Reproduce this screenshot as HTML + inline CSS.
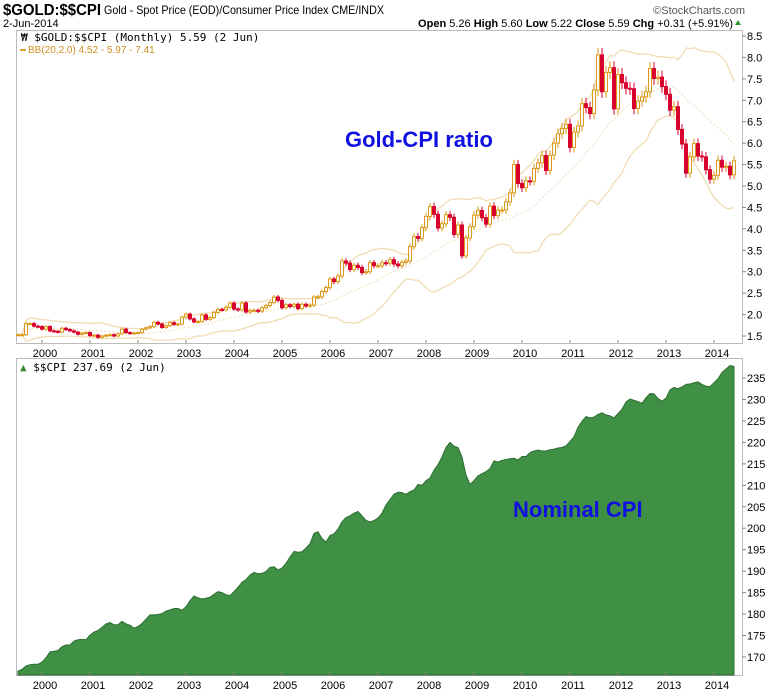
<!DOCTYPE html>
<html><head><meta charset="utf-8"><style>
body{margin:0;background:#fff;font-family:"Liberation Sans",sans-serif}
svg{display:block}
</style></head><body>
<svg id="c" width="780" height="690" xmlns="http://www.w3.org/2000/svg">
<text x="3" y="15" font-size="16" font-weight="bold" textLength="98" lengthAdjust="spacingAndGlyphs">$GOLD:$$CPI</text>
<text x="104" y="14" font-size="12" textLength="280" lengthAdjust="spacingAndGlyphs">Gold - Spot Price (EOD)/Consumer Price Index  CME/INDX</text>
<text x="745" y="14" font-size="11" fill="#555" text-anchor="end">©StockCharts.com</text>
<text x="3" y="27" font-size="11">2-Jun-2014</text>
<text x="733" y="27" font-size="11" text-anchor="end"><tspan font-weight="bold">Open</tspan> 5.26 <tspan font-weight="bold">High</tspan> 5.60 <tspan font-weight="bold">Low</tspan> 5.22 <tspan font-weight="bold">Close</tspan> 5.59 <tspan font-weight="bold">Chg</tspan> +0.31 (+5.91%)</text>
<path d="M735,25 l3,-5 l3,5z" fill="#2a9a2a"/>
<rect x="16.5" y="30.5" width="726" height="313" fill="none" stroke="#bbb"/>
<rect x="16.5" y="358.5" width="726" height="317" fill="none" stroke="#bbb"/>
<g id="topg"></g><g id="botg"></g><g id="axesg"></g>
<text x="21" y="41" font-size="11" font-family="DejaVu Sans Mono">₩ $GOLD:$$CPI (Monthly) 5.59 (2 Jun)</text>
<rect x="20" y="49" width="6" height="2" fill="#e0a030"/>
<text x="28" y="53" font-size="10" fill="#d09020">BB(20,2.0) 4.52 - 5.97 - 7.41</text>
<text x="20" y="371" font-size="11" font-family="DejaVu Sans Mono"><tspan fill="#3a8a3a">▲</tspan> $$CPI 237.69 (2 Jun)</text>
<text x="345" y="147" font-size="22" font-weight="bold" fill="#1010e0">Gold-CPI ratio</text>
<text x="513" y="517" font-size="22" font-weight="bold" fill="#1010e0">Nominal CPI</text>
</svg>
<script>
const ratioCloses=[1.53,1.53,1.79,1.79,1.73,1.72,
1.66,1.72,1.62,1.61,1.59,1.68,1.65,1.62,1.59,1.54,1.57,1.58,
1.51,1.52,1.47,1.50,1.52,1.53,1.50,1.55,1.66,1.58,1.56,1.57,
1.58,1.66,1.69,1.72,1.82,1.78,1.70,1.74,1.81,1.77,1.78,1.94,
2.01,1.90,1.83,1.84,1.99,1.89,1.93,2.05,2.12,2.11,2.17,2.27,
2.13,2.11,2.27,2.06,2.10,2.10,2.08,2.16,2.21,2.28,2.41,2.33,
2.16,2.23,2.19,2.24,2.14,2.24,2.20,2.22,2.41,2.41,2.54,2.63,
2.83,2.77,2.90,3.25,3.20,3.05,3.15,3.10,2.98,3.00,3.21,3.14,
3.14,3.21,3.20,3.28,3.18,3.14,3.22,3.25,3.59,3.82,3.78,4.03,
4.29,4.52,4.34,4.02,4.12,4.33,4.27,3.87,4.09,3.37,3.79,4.05,
4.32,4.43,4.26,4.11,4.53,4.31,4.44,4.44,4.63,4.84,5.50,5.06,
4.96,5.12,5.11,5.41,5.54,5.71,5.36,5.72,6.00,6.22,6.34,6.44,
5.90,6.26,6.40,6.92,6.83,6.69,7.24,8.06,7.20,7.65,7.76,6.80,
7.60,7.41,7.28,7.27,6.81,6.98,7.08,7.20,7.74,7.51,7.54,7.32,
7.14,6.77,6.85,6.32,5.98,5.30,5.68,5.99,5.70,5.68,5.38,5.16,
5.25,5.60,5.44,5.46,5.26,5.59];
const cpiValues=[166.7,167.1,167.9,168.2,168.3,168.3,
168.8,169.8,171.2,171.3,171.5,172.4,172.8,172.8,173.7,174.0,174.1,174.0,
175.1,175.8,176.2,176.9,177.7,178.0,177.5,177.5,178.3,177.7,177.4,176.7,
177.1,177.8,178.8,179.8,179.8,179.9,180.1,180.7,181.0,181.3,181.3,180.9,
181.7,183.1,184.2,183.8,183.5,183.7,183.9,184.6,185.2,185.0,184.5,184.3,
185.2,186.2,187.4,188.0,189.1,189.7,189.4,189.5,189.9,190.9,191.0,190.3,
190.7,191.8,193.3,194.6,194.4,194.5,195.4,196.4,198.8,199.2,197.6,196.8,
198.3,198.7,199.8,201.5,202.5,202.9,203.5,203.9,202.9,201.8,201.5,201.8,
202.4,203.5,205.4,206.7,207.9,208.4,208.3,207.9,208.5,208.9,210.2,210.0,
211.1,211.7,213.5,214.8,216.6,218.8,220.0,219.1,218.8,216.6,212.4,210.2,
211.1,212.2,212.7,213.2,213.9,215.7,215.4,215.8,216.0,216.2,216.3,215.9,
216.7,216.7,217.6,218.0,218.2,218.0,218.0,218.3,218.4,218.7,218.8,219.2,
220.2,221.3,223.5,224.9,226.0,225.7,225.9,226.5,226.9,226.4,226.2,225.7,
226.7,227.7,229.4,230.1,229.8,229.5,229.1,230.4,231.4,231.3,230.2,229.6,
230.3,232.2,232.8,232.5,232.9,233.5,233.6,233.9,234.1,233.5,233.1,233.0,
233.9,234.8,236.3,237.1,237.9,237.69];
const yearLabels=[2000,2001,2002,2003,2004,2005,2006,2007,2008,2009,2010,2011,2012,2013,2014];
const ratioTicks=[8.5,8.0,7.5,7.0,6.5,6.0,5.5,5.0,4.5,4.0,3.5,3.0,2.5,2.0,1.5];
const cpiTicks=[235,230,225,220,215,210,205,200,195,190,185,180,175,170];
const firstYear=1999, firstMonth=6;

const NS="http://www.w3.org/2000/svg";
const xOf=i=>18+i*4;
const yTop=v=>36+(8.5-v)*42.86;
const yBot=v=>378+(235-v)*4.292;
function mk(tag,attrs,parent){const e=document.createElementNS(NS,tag);for(const k in attrs)e.setAttribute(k,attrs[k]);parent.appendChild(e);return e;}
const topG=document.getElementById('topg'),botG=document.getElementById('botg'),axesG=document.getElementById('axesg');

let bbUp=[],bbMid=[],bbLo=[];
ratioCloses.forEach((c,i)=>{const s=ratioCloses.slice(Math.max(0,i-19),i+1);const m=s.reduce((a,b)=>a+b,0)/s.length;const sd=Math.sqrt(s.reduce((a,b)=>a+(b-m)*(b-m),0)/s.length);bbMid.push(m);bbUp.push(m+2*sd);bbLo.push(m-2*sd);});
function drawLine(arr,attrs,name){const d=arr.map((v,i)=>(i?'L':'M')+xOf(i)+','+yTop(v).toFixed(1)).join('');const p=mk('path',Object.assign({d:d,fill:'none'},attrs),topG);

}
drawLine(bbUp,{stroke:'#f0dcb4','stroke-width':1.3},'bb-upper');
drawLine(bbLo,{stroke:'#f0dcb4','stroke-width':1.3},'bb-lower');
drawLine(bbMid,{stroke:'#f0dcb4','stroke-width':1,'stroke-dasharray':'2,2'},'bb-middle');

ratioCloses.forEach((c,i)=>{
  const o=i?ratioCloses[i-1]:c;const hi=Math.max(o,c)*1.02, lw=Math.min(o,c)*0.98;
  const upC=c>=o;const col=upC?'#dc9a1c':'#d8002c';const x=xOf(i);
  const g=mk('g',{},topG);
  
  
  mk('line',{x1:x,x2:x,y1:yTop(hi),y2:yTop(lw),stroke:col,'stroke-width':1},g);
  const y1=yTop(Math.max(o,c)),y2=yTop(Math.min(o,c));
  mk('rect',{x:x-1.5,y:y1,width:3,height:Math.max(1,y2-y1),fill:upC?'#fff':col,stroke:col,'stroke-width':1},g);
});

let d='M'+xOf(0)+',675';cpiValues.forEach((v,i)=>{d+='L'+xOf(i)+','+yBot(v).toFixed(1);});d+='L'+xOf(cpiValues.length-1)+',675Z';
const area=mk('path',{d:d,fill:'#3f8f45',stroke:'#2c6e31','stroke-width':1},botG);



ratioTicks.forEach(v=>{const y=yTop(v);mk('line',{x1:742,x2:746,y1:y,y2:y,stroke:'#888'},axesG);
const t=mk('text',{x:747,y:y+4,'font-size':11},axesG);t.textContent=v.toFixed(1);

});
cpiTicks.forEach(v=>{const y=yBot(v);mk('line',{x1:742,x2:746,y1:y,y2:y,stroke:'#888'},axesG);
const t=mk('text',{x:747,y:y+4,'font-size':11},axesG);t.textContent=v;

});
yearLabels.forEach(yr=>{const idx=(yr-firstYear)*12-firstMonth;const x=xOf(idx);
[[343,352],[675,684]].forEach(([ay,ty],k)=>{mk('line',{x1:x,x2:x,y1:ay-3,y2:ay,stroke:'#888'},axesG);
const t=mk('text',{x:x+3,y:ty+5,'font-size':11,'text-anchor':'middle'},axesG);t.textContent=yr;

});});
</script>
</body></html>
